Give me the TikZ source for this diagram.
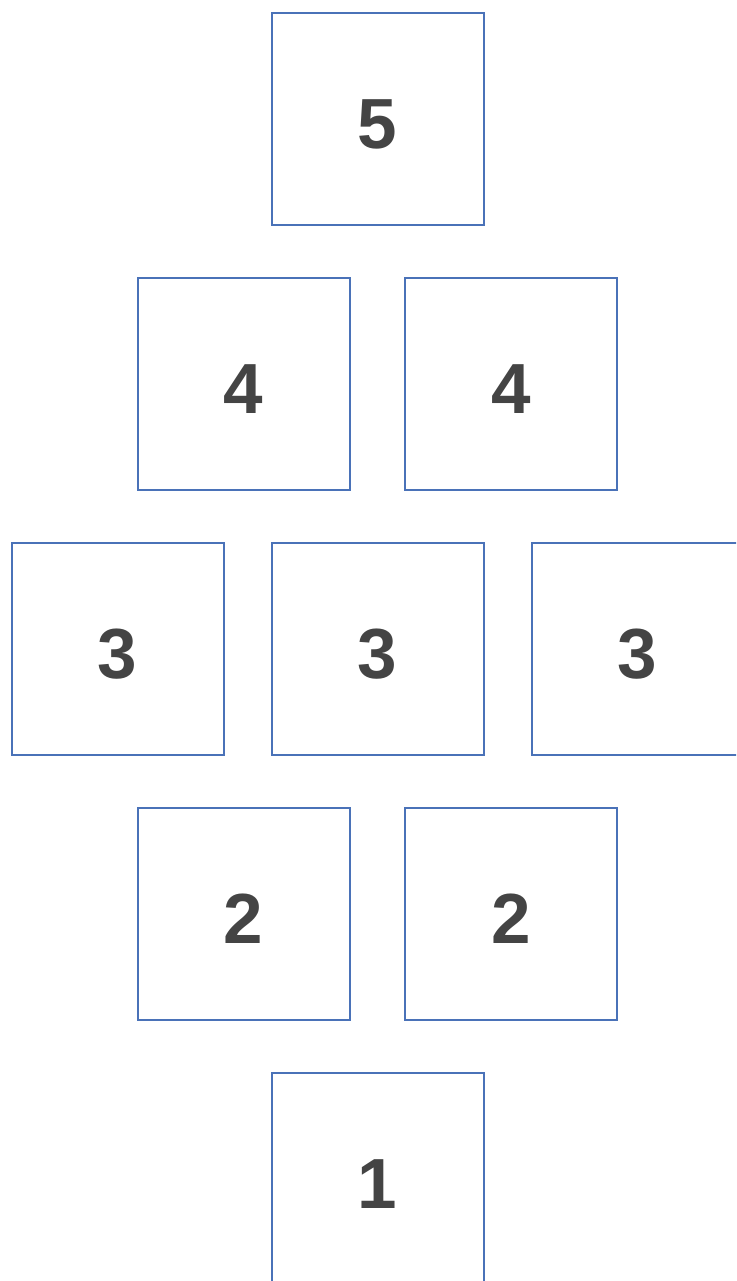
\documentclass[tikz,border=0pt]{standalone}
\usepackage{fontspec}
\setmainfont{Liberation Sans}
\definecolor{boxblue}{HTML}{4A72B8}
\definecolor{numgray}{HTML}{444444}
\tikzset{tile/.style={draw=boxblue, line width=2pt, minimum width=212pt, minimum height=212pt,
    inner sep=0pt, text height=59pt, text depth=0pt, text=numgray,
    font=\bfseries\fontsize{71}{84}\selectfont}}

\begin{document}
\begin{tikzpicture}[x=1pt, y=1pt]
  \useasboundingbox (0,0) rectangle (736,-1281);
  \clip (0,0) rectangle (736,-1281);
  % top row
  \node[tile] (top) at (377.5,-119) {5};
  % second row
  \node[tile] (fourL) at (243.5,-384) {4};
  \node[tile] (fourR) at (511,-384) {4};
  % middle row, the right one runs off the edge
  \node[tile] (threeL) at (117.5,-649) {3};
  \node[tile] (threeM) at (377.5,-649) {3};
  \node[tile] (threeR) at (637.5,-649) {3};
  % fourth row
  \node[tile] (twoL) at (243.5,-914) {2};
  \node[tile] (twoR) at (511,-914) {2};
  % bottom, cut off
  \node[tile] (bottom) at (377.5,-1179) {1};
\end{tikzpicture}
\end{document}
